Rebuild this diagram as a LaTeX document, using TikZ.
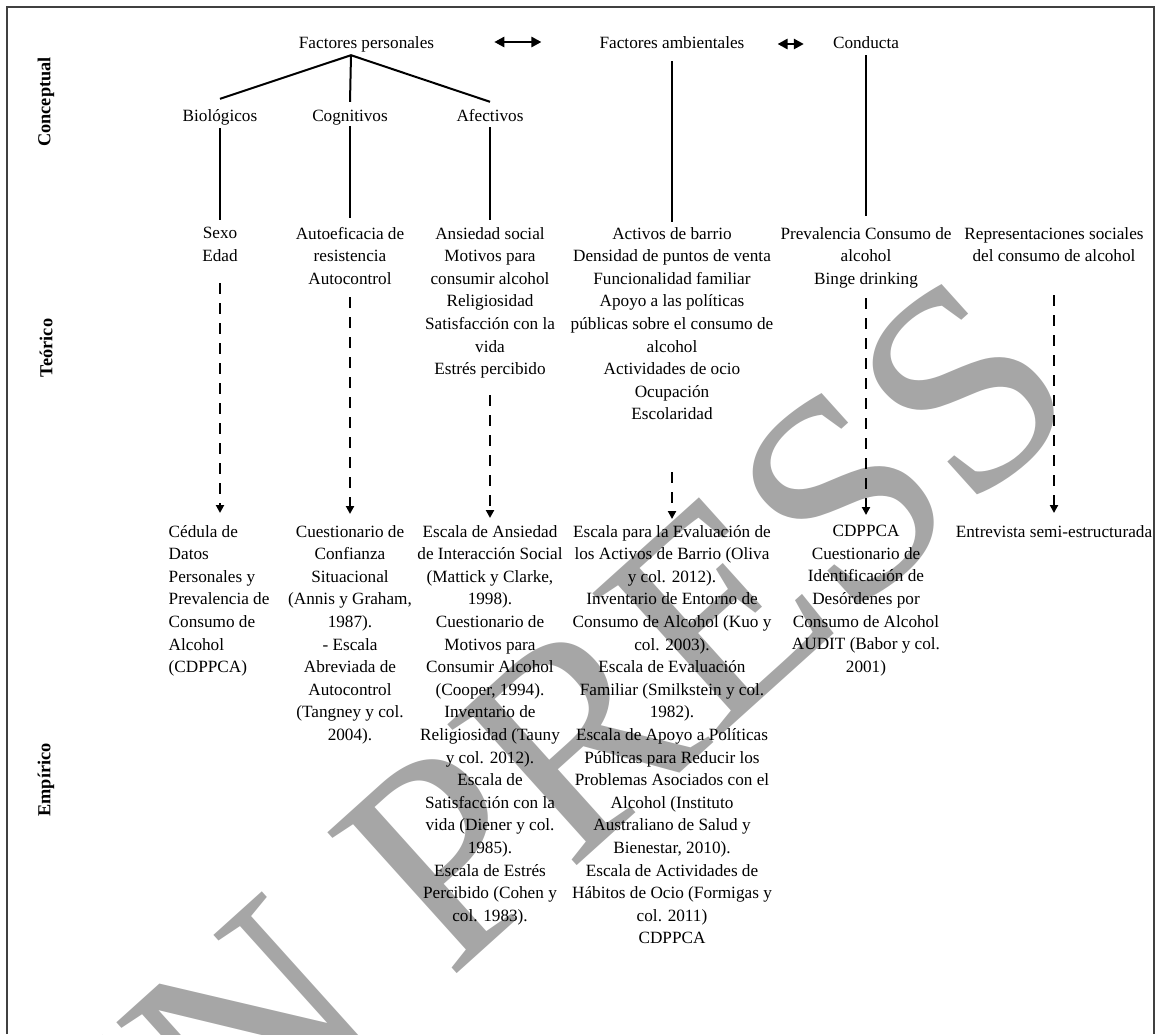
\documentclass[tikz,border=0pt]{standalone}
\usepackage{fontspec}
\setmainfont{Liberation Serif}
\usepackage{tikz}
\usetikzlibrary{arrows.meta}
\definecolor{wmgray}{HTML}{A6A6A6}
\definecolor{framegray}{HTML}{404040}

\begin{document}
\begin{tikzpicture}[x=1pt,y=-1pt,
		txt/.style={inner sep=0pt,font=\fontsize{17.2}{22.6}\selectfont,align=center},
		concept/.style={txt,text height=12pt,text depth=4pt,anchor=base},
		side/.style={inner sep=0pt,rotate=90,font=\fontsize{18.3}{22}\selectfont\bfseries},
		wm/.style={inner sep=0pt,anchor=base west,rotate=42,text=wmgray,font=\fontsize{292}{292}\selectfont},
		link/.style={line width=2pt},
		dlink/.style={line width=2.8pt,dash pattern=on 11pt off 9pt,-{Triangle[length=8pt,width=8pt]}},
		both/.style={line width=2.8pt,{Triangle[length=10pt,width=10pt]}-{Triangle[length=10pt,width=10pt]}}]
			\useasboundingbox (0,0) rectangle (1156,1034);
			\begin{scope}
				\clip (0,0) rectangle (1156,1034);
				\node[wm] (wmark) at (166,1236) {IN PRESS};
			\end{scope}
			\draw[line width=1.3pt,framegray] (7,1034) -- (7,7) -- (1154,7) -- (1154,1034);
			\node[side] (lconc) at (46,102) {Conceptual};
			\node[side] (lteo) at (46,348) {Teórico};
			\node[side] (lemp) at (46,780) {Empírico};
			\node[concept] (fp) at (366.5,48) {Factores personales};
			\node[concept] (fa) at (672,48) {Factores ambientales};
			\node[concept] (cond) at (866,48) {Conducta};
			\node[concept] (bio) at (220,121) {Biológicos};
			\node[concept] (cog) at (350,121) {Cognitivos};
			\node[concept] (afe) at (490,121) {Afectivos};
			\node[txt,anchor=north] (teobio) at (220,227) {Sexo\\Edad};
			\node[txt,anchor=north] (teocog) at (350,227) {Autoeficacia de\\resistencia\\Autocontrol};
			\node[txt,anchor=north] (teoafe) at (490,227) {Ansiedad social\\Motivos para\\consumir alcohol\\Religiosidad\\Satisfacción con la\\vida\\Estrés percibido};
			\node[txt,anchor=north] (teofa) at (672,227) {Activos de barrio\\Densidad de puntos de venta\\Funcionalidad familiar\\Apoyo a las políticas\\públicas sobre el consumo de\\alcohol\\Actividades de ocio\\Ocupación\\Escolaridad};
			\node[txt,anchor=north] (teocond) at (866,227) {Prevalencia Consumo de\\alcohol\\Binge drinking};
			\node[txt,anchor=north] (teorep) at (1054,227) {Representaciones sociales\\del consumo de alcohol};
			\node[txt,anchor=north west,align=left] (empbio) at (168.5,525) {Cédula de\\Datos\\Personales y\\Prevalencia de\\Consumo de\\Alcohol\\(CDPPCA)};
			\node[txt,anchor=north] (empcog) at (350,525) {Cuestionario de\\Confianza\\Situacional\\(Annis y Graham,\\1987).\\- Escala\\Abreviada de\\Autocontrol\\(Tangney y col.\\2004).};
			\node[txt,anchor=north] (empafe) at (490,525) {Escala de Ansiedad\\de Interacción Social\\(Mattick y Clarke,\\1998).\\Cuestionario de\\Motivos para\\Consumir Alcohol\\(Cooper, 1994).\\Inventario de\\Religiosidad (Tauny\\y col. 2012).\\Escala de\\Satisfacción con la\\vida (Diener y col.\\1985).\\Escala de Estrés\\Percibido (Cohen y\\col. 1983).};
			\node[txt,anchor=north] (empfa) at (672,525) {Escala para la Evaluación de\\los Activos de Barrio (Oliva\\y col. 2012).\\Inventario de Entorno de\\Consumo de Alcohol (Kuo y\\col. 2003).\\Escala de Evaluación\\Familiar (Smilkstein y col.\\1982).\\Escala de Apoyo a Políticas\\Públicas para Reducir los\\Problemas Asociados con el\\Alcohol (Instituto\\Australiano de Salud y\\Bienestar, 2010).\\Escala de Actividades de\\Hábitos de Ocio (Formigas y\\col. 2011)\\CDPPCA};
			\node[txt,anchor=north] (empcond) at (866,525) {CDPPCA\\Cuestionario de\\Identificación de\\Desórdenes por\\Consumo de Alcohol\\AUDIT (Babor y col.\\2001)};
			\node[txt,anchor=north] (emprep) at (1054,525) {Entrevista semi-estructurada};
			\coordinate (apex) at ([xshift=-15.5pt,yshift=-3pt]fp.south);
			\draw[link] ([yshift=10pt]bio.north) -- (apex) -- ([yshift=7pt]afe.north);
			\draw[link] (apex) -- ([yshift=7pt]cog.north);
			\draw[line width=1.2pt] ([yshift=-3pt]bio.south) -- ([yshift=7pt]teobio.north);
			\draw[link] ([yshift=-1pt]cog.south) -- ([yshift=9pt]teocog.north);
			\draw[link] ([yshift=-2pt]afe.south) -- ([yshift=7pt]teoafe.north);
			\draw[link] ([yshift=-9pt]fa.south) -- ([yshift=5pt]teofa.north);
			\draw[link] ([yshift=-3pt]cond.south) -- ([yshift=11pt]teocond.north);
			\draw[both] ([xshift=60pt,yshift=2pt]fp.east) -- ([xshift=-58pt,yshift=2pt]fa.west);
			\draw[both] ([xshift=33pt]fa.east) -- ([xshift=-29pt]cond.west);
			\draw[dlink] ([yshift=-56pt]teobio.north) -- ([yshift=12pt]teobio.north |- empbio.north);
			\draw[dlink] ([yshift=-70pt]teocog.north) -- ([yshift=11pt]empcog.north);
			\draw[dlink] ([yshift=-168pt]teoafe.north) -- ([yshift=7pt]empafe.north);
			\draw[dlink] ([yshift=-245pt]teofa.north) -- ([yshift=6pt]empfa.north);
			\draw[dlink] ([yshift=-71pt]teocond.north) -- ([yshift=10pt]empcond.north);
			\draw[dlink] ([yshift=-68pt]teorep.north) -- ([yshift=12pt]emprep.north);
		\end{tikzpicture}
\end{document}
